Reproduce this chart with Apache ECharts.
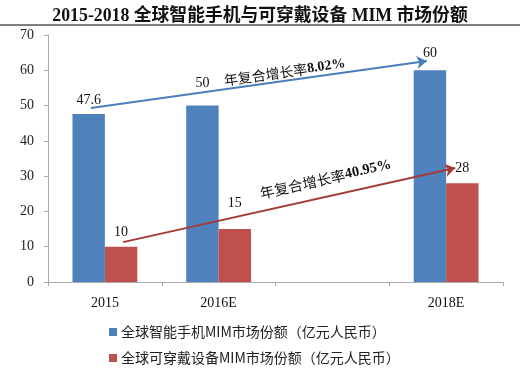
<!DOCTYPE html>
<html><head><meta charset="utf-8">
<script src="https://cdn.jsdelivr.net/npm/echarts@6/dist/echarts.min.js"></script>
<style>html,body{margin:0;padding:0;background:#fff}#c{width:520px;height:372px}</style>
</head><body><div id="c"></div>
<script>
// ---- data ----
const categories = ['2015', '2016E', '', '2018E'];
const smartphoneMIM = [47.6, 50, '-', 60];
const wearableMIM = [10, 15, '-', 28];
const seriesNames = ['全球智能手机MIM市场份额（亿元人民币）', '全球可穿戴设备MIM市场份额（亿元人民币）'];
const titleText = '2015-2018 全球智能手机与可穿戴设备 MIM 市场份额';
const yMin = 0, yMax = 70, yInterval = 10;
const cagrPrefix = '年复合增长率';
const smartphoneCAGR = '8.02%';
const wearableCAGR = '40.95%';
// annotation anchors in data space: [band position (0 = left edge of first category), value]
const smartphoneArrow = [[0.377, 49.3], [3.33, 62.6]];
const wearableArrow = [[0.66, 11.3], [3.58, 32.3]];
const smartphoneTextAt = [2.08, 59.5];
const wearableTextAt = [2.44, 29.2];

// ---- styles ----
const BLUE = '#4F81BD', RED = '#C0504D';
const BLUE_LINE = '#4A7EBB', RED_LINE = '#A33B38';
const serif = '"Liberation Serif","Noto Sans CJK SC",serif';
const cjk = '"Noto Sans CJK SC","Liberation Serif",sans-serif';
const blueLabelDist = [7, 15, 0, 10];
const redLabelDist = [7, 19, 0, 8];

function items(vals, dists) {
  return vals.map((v, i) => ({ value: v, label: { distance: dists[i] } }));
}

const chart = echarts.init(document.getElementById('c'), null, { renderer: 'canvas' });
const option = {
  animation: false,
  backgroundColor: '#fff',
  title: {
    text: titleText, left: 'center', top: 3,
    textStyle: { fontFamily: serif, fontWeight: 'bold', fontSize: 17.8, color: '#111' }
  },
  grid: { left: 48, right: 17, top: 35, bottom: 90 },
  legend: {
    orient: 'vertical', left: 104, top: 320, itemWidth: 8, itemHeight: 8, itemGap: 12,
    icon: 'rect', data: seriesNames,
    textStyle: { fontFamily: cjk, fontSize: 14, color: '#222', padding: [0, 0, 0, -1] }
  },
  xAxis: [{
    type: 'category', data: categories, boundaryGap: true,
    axisLine: { lineStyle: { color: '#aaa', width: 1 } },
    axisTick: { show: true, length: 4, lineStyle: { color: '#aaa' } },
    axisLabel: { fontFamily: serif, fontSize: 14, color: '#111', margin: 14 },
    splitLine: { show: false }
  }, {
    type: 'value', min: 0, max: categories.length, show: false
  }],
  yAxis: {
    type: 'value', min: yMin, max: yMax, interval: yInterval,
    axisLine: { show: true, lineStyle: { color: '#aaa' } },
    axisTick: { show: true, length: 4, lineStyle: { color: '#aaa' } },
    axisLabel: { fontFamily: serif, fontSize: 14, color: '#222', margin: 14 },
    splitLine: { show: false }
  },
  series: [{
    name: seriesNames[0], type: 'bar', barGap: 0, barCategoryGap: '43%',
    itemStyle: { color: BLUE },
    label: { show: true, position: 'top', fontFamily: serif, fontSize: 14, color: '#111' },
    data: items(smartphoneMIM, blueLabelDist)
  }, {
    name: seriesNames[1], type: 'bar', barGap: 0, barCategoryGap: '43%',
    itemStyle: { color: RED },
    label: { show: true, position: 'top', fontFamily: serif, fontSize: 14, color: '#111' },
    data: items(wearableMIM, redLabelDist)
  }, {
    name: 'arrows', type: 'line', xAxisIndex: 1, yAxisIndex: 0, data: [],
    silent: true,
    markLine: {
      silent: true, symbol: ['none', 'arrow'], symbolSize: 10,
      label: { show: false },
      data: [
        [{ coord: smartphoneArrow[0], lineStyle: { color: BLUE_LINE, width: 2, type: 'solid' }, itemStyle: { color: BLUE_LINE } },
         { coord: smartphoneArrow[1] }],
        [{ coord: wearableArrow[0], lineStyle: { color: RED_LINE, width: 2, type: 'solid' }, itemStyle: { color: RED_LINE } },
         { coord: wearableArrow[1] }]
      ]
    }
  }]
};
chart.setOption(option);

function px(p) { return chart.convertToPixel({ xAxisIndex: 1, yAxisIndex: 0 }, p); }
function angleOf(seg) {
  const a = px(seg[0]), b = px(seg[1]);
  return Math.atan2(a[1] - b[1], b[0] - a[0]);
}
function cagrText(at, seg, pct, size) {
  const p = px(at);
  return {
    type: 'text', x: p[0], y: p[1], rotation: angleOf(seg), silent: true,
    style: {
      text: '{a|' + cagrPrefix + '}{b|' + pct + '}',
      align: 'center', verticalAlign: 'middle',
      rich: {
        a: { fontFamily: cjk, fontSize: size, fill: '#111' },
        b: { fontFamily: serif, fontSize: size, fontWeight: 'bold', fill: '#111' }
      }
    }
  };
}
chart.setOption({
  graphic: [
    { type: 'line', shape: { x1: 0, y1: 25, x2: 520, y2: 25 }, style: { stroke: '#555', lineWidth: 1.5 }, silent: true },
    cagrText(smartphoneTextAt, smartphoneArrow, smartphoneCAGR, 14),
    cagrText(wearableTextAt, wearableArrow, wearableCAGR, 14.5)
  ]
});
</script>
</body></html>
